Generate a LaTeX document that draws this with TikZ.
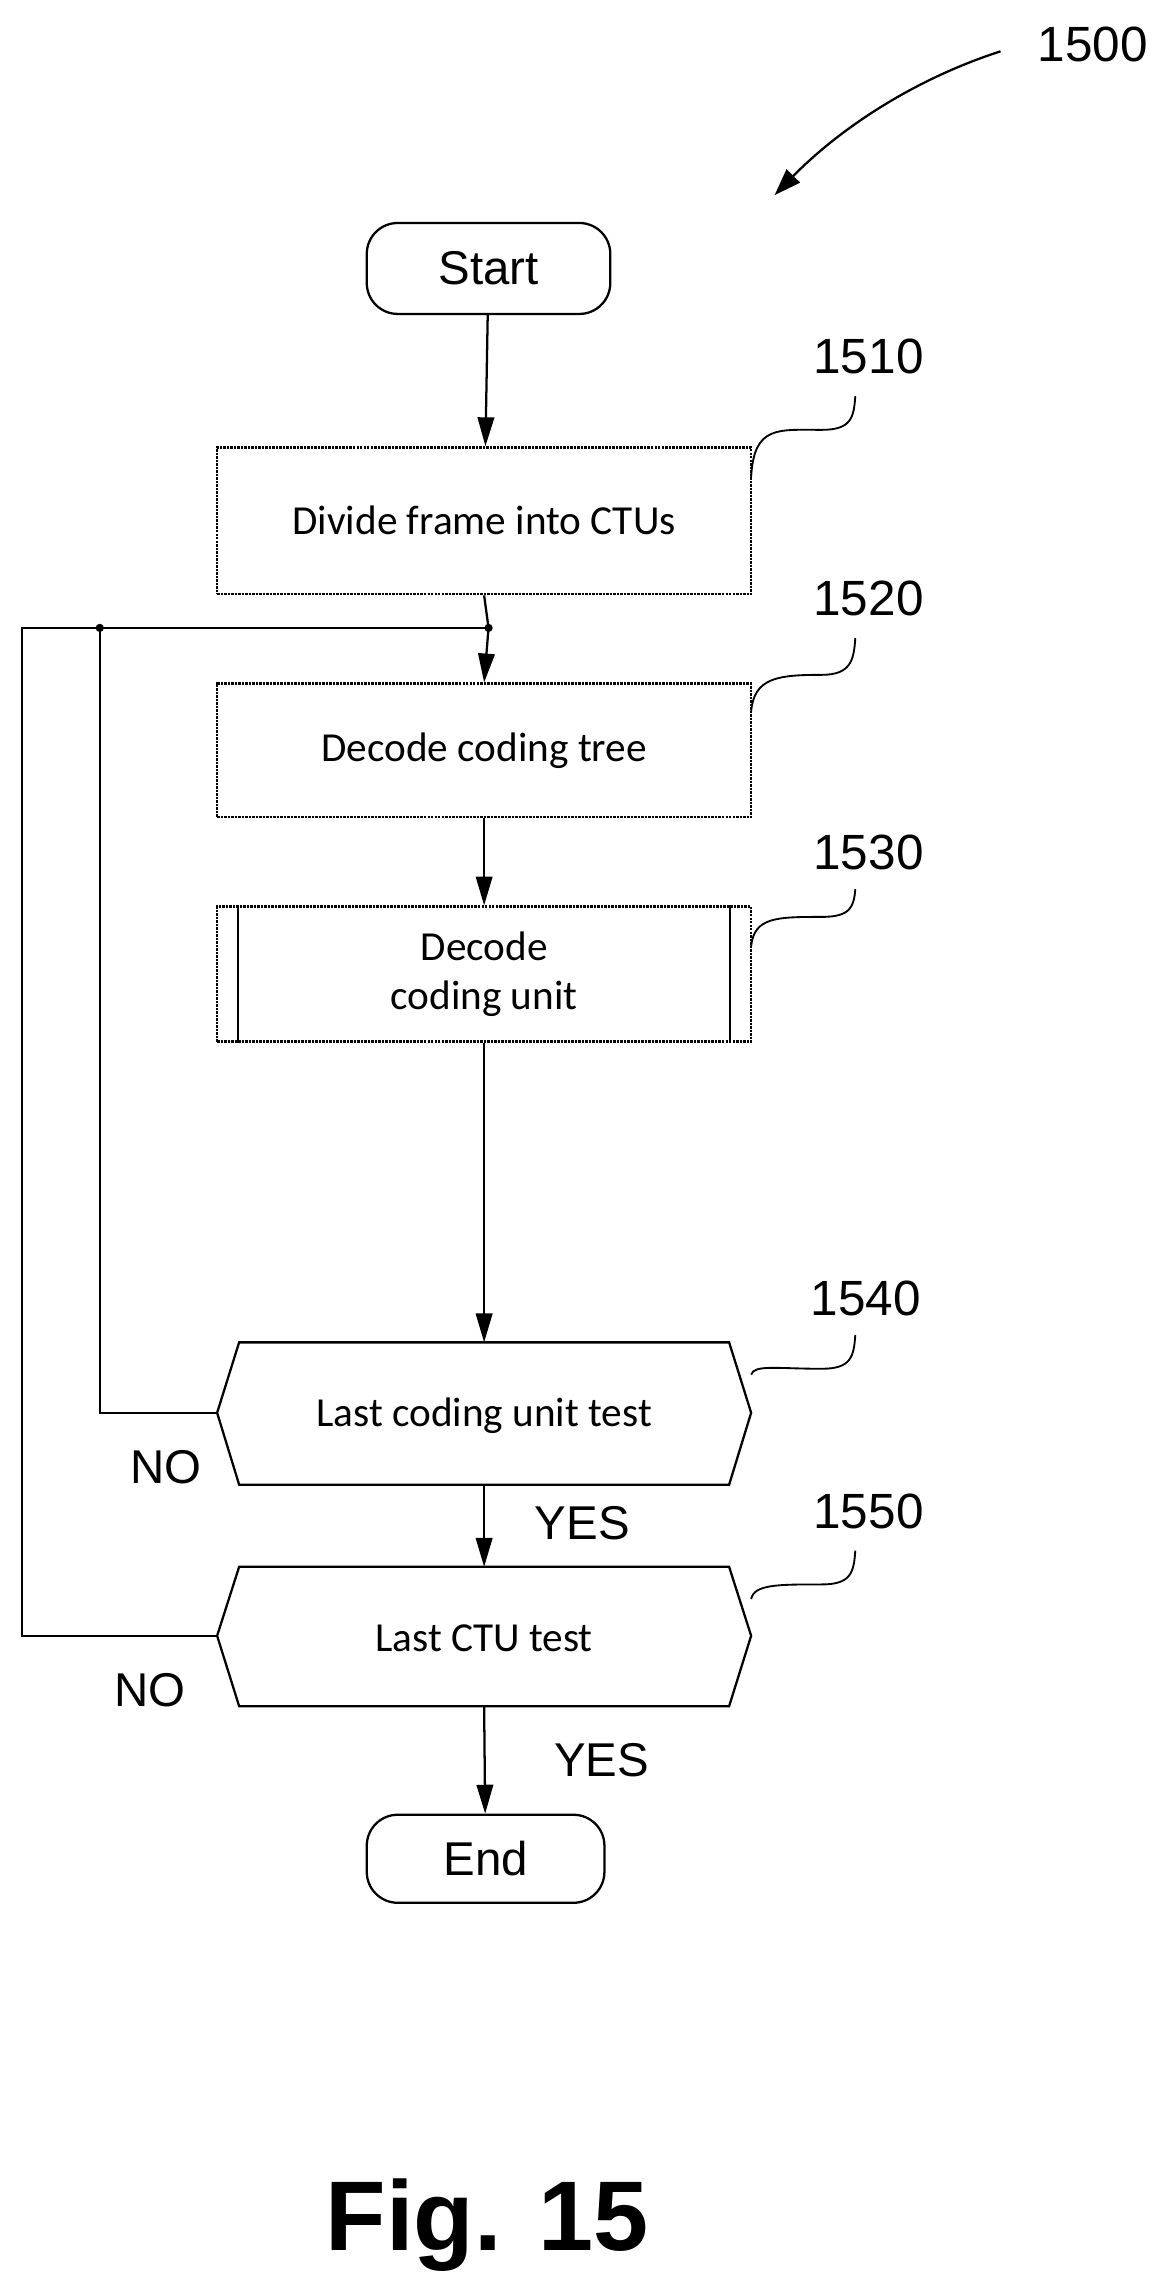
\documentclass[tikz,border=0pt]{standalone}
\usepackage{fontspec}
\setmainfont{Carlito}
\newfontfamily\arialf{Liberation Sans}
\usetikzlibrary{arrows.meta}
\begin{document}
\begin{tikzpicture}[x=0.05cm,y=-0.05cm,
  line width=2.2pt,
  arr/.style={-{Triangle[length=28pt,width=16pt]}},
  term/.style={draw,rounded corners=30pt,minimum width=8.3cm,minimum height=3.1cm,font=\arialf\fontsize{46}{50}\selectfont,inner sep=0pt},
  proc/.style={draw,densely dotted,line width=2.4pt,minimum width=18.2cm,inner sep=0pt,font=\fontsize{40}{48}\selectfont,align=center},
  num/.style={font=\arialf\fontsize{48}{52}\selectfont},
  lbl/.style={font=\arialf\fontsize{46}{50}\selectfont},
  lead/.style={line width=1.8pt}]
\useasboundingbox (0,0) rectangle (800,1563);
\node[term] (start) at (333,183) {Start};
\node[proc,minimum height=5cm] (b1) at (330,355) {Divide frame into CTUs};
\node[proc,minimum height=4.55cm] (b2) at (330,511.5) {Decode coding tree};
\node[proc,minimum height=4.6cm] (b3) at (330,664) {Decode\\coding unit};
\draw ([xshift=0.75cm]b3.north west) -- ([xshift=0.75cm]b3.south west);
\draw ([xshift=-0.75cm]b3.north east) -- ([xshift=-0.75cm]b3.south east);
% hexagons
\coordinate (h1l) at (148,963); \coordinate (h1r) at (512,963);
\draw (163,915) -- (497,915) -- (h1r) -- (497,1012) -- (163,1012) -- (h1l) -- cycle;
\node[font=\fontsize{40}{48}\selectfont] (t1) at (330,965) {Last coding unit test};
\coordinate (h1t) at (330,915); \coordinate (h1b) at (330,1012);
\coordinate (h2l) at (148,1115); \coordinate (h2r) at (512,1115);
\draw (163,1068) -- (497,1068) -- (h2r) -- (497,1163) -- (163,1163) -- (h2l) -- cycle;
\node[font=\fontsize{40}{48}\selectfont] (t2) at (330,1117) {Last CTU test};
\coordinate (h2t) at (330,1068); \coordinate (h2b) at (330,1163);
\node[term,minimum width=8.1cm,minimum height=3cm] (end) at (331,1267) {End};
% connectors
\draw[arr] (start) -- (b1);
\coordinate (j1) at (333,428); \coordinate (j2) at (68,428); \coordinate (j3) at (15,428);
\draw (b1.south) -- (j1);
\draw[arr] (j1) -- (b2.north);
\draw[arr] (b2) -- (b3);
\draw[arr] (b3.south) -- (h1t);
\draw (h1l) -- (68,963) -- (j2);
\draw (h2l) -- (15,1115) -- (j3) -- (j1);
\fill (j1) circle (4pt); \fill (j2) circle (4pt);
\draw[arr] (h1b) -- (h2t);
\draw[arr] (h2b) -- (end);
\node[lbl] (no1) at (113,1000) {NO};
\node[lbl] (no2) at (102,1152) {NO};
\node[lbl] (y1) at (397,1038) {YES};
\node[lbl] (y2) at (410,1200) {YES};
% reference numbers
\node[num] (n1) at (592,243) {1510};
\node[num] (n2) at (592,408) {1520};
\node[num] (n3) at (592,581) {1530};
\node[num] (n4) at (590,885) {1540};
\node[num] (n5) at (592,1030) {1550};
\node[num] (n0) at (745,30) {1500};
\draw[lead] (512,325) .. controls (514,290) and (530,293) .. (560,293) .. controls (580,293) and (582,285) .. (583,270);
\draw[lead] (512,485) .. controls (514,462) and (530,460) .. (560,460) .. controls (580,460) and (582,450) .. (583,435);
\draw[lead] (512,645) .. controls (514,625) and (530,625) .. (560,625) .. controls (580,625) and (582,618) .. (583,606);
\draw[lead] (512,937) .. controls (514,930) and (530,933) .. (560,933) .. controls (580,933) and (582,925) .. (583,910);
\draw[lead] (512,1090) .. controls (514,1080) and (530,1080) .. (560,1080) .. controls (580,1080) and (582,1072) .. (583,1057);
\draw[line width=2.2pt,-{Triangle[length=26pt,width=18pt]}] (682,35) .. controls (620,55) and (570,90) .. (528,133);
\node[font=\arialf\bfseries\fontsize{96}{100}\selectfont] (fig) at (332,1517) {Fig. 15};
\end{tikzpicture}
\end{document}
